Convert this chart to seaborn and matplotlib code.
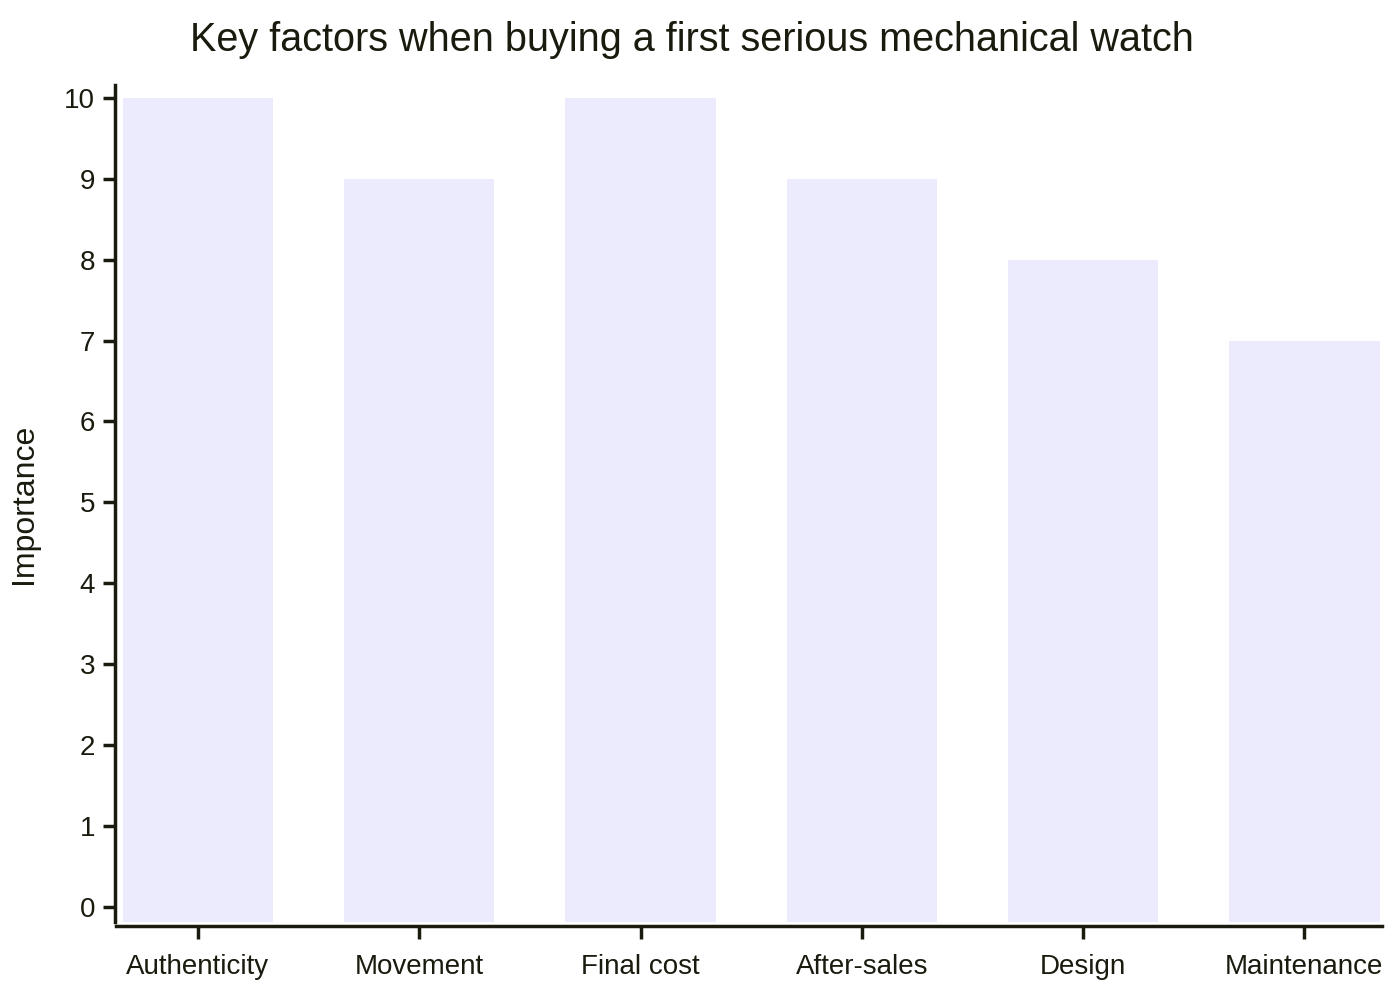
import matplotlib
matplotlib.use("Agg")
import matplotlib.pyplot as plt
import seaborn as sns
import pandas as pd

categories = ["Authenticity", "Movement", "Final cost", "After-sales", "Design", "Maintenance"]
importance = [10, 9, 10, 9, 8, 7]
yticks = [0, 1, 2, 3, 4, 5, 6, 7, 8, 9, 10]

sns.set_theme(style="ticks")
plt.rcParams['font.family'] = ['Liberation Sans', 'DejaVu Sans']
ink = "#1a1a0e"

df = pd.DataFrame({"Factor": categories, "Importance": importance})

fig = plt.figure(figsize=(14, 10), dpi=100)
ax = fig.add_axes([0.0829, 0.078, 0.9041, 0.837])
sns.barplot(data=df, x="Factor", y="Importance", color="#ECEBFD", saturation=1,
            width=0.68, linewidth=0, ax=ax)

ymin, ymax = -0.19, 10.16
ax.set_xlim(-0.37, 5.35)
ax.set_ylim(ymin, ymax)
# bars in the reference run down to the bottom of the plot area
for p in ax.patches:
    top = p.get_y() + p.get_height()
    p.set_y(ymin)
    p.set_height(top - ymin)

ax.set_yticks(yticks)
ax.set_yticklabels([str(v) for v in yticks])
ax.set_xlabel("")
ax.set_ylabel("Importance", fontsize=23, color=ink, labelpad=18)
fig.suptitle("Key factors when buying a first serious mechanical watch",
             fontsize=28.5, color=ink, x=0.494, y=0.979, va="top")

for s in ["top", "right"]:
    ax.spines[s].set_visible(False)
for s in ["left", "bottom"]:
    ax.spines[s].set_color(ink)
    ax.spines[s].set_linewidth(2.5)
ax.spines["bottom"].set_position(("outward", 3))
ax.spines["left"].set_position(("outward", 1))
ax.tick_params(axis="both", colors=ink, labelcolor=ink, labelsize=20,
               width=2.5, length=9)
ax.tick_params(axis="x", pad=11)
ax.tick_params(axis="y", pad=5)

fig.savefig("out.png", dpi=100)
